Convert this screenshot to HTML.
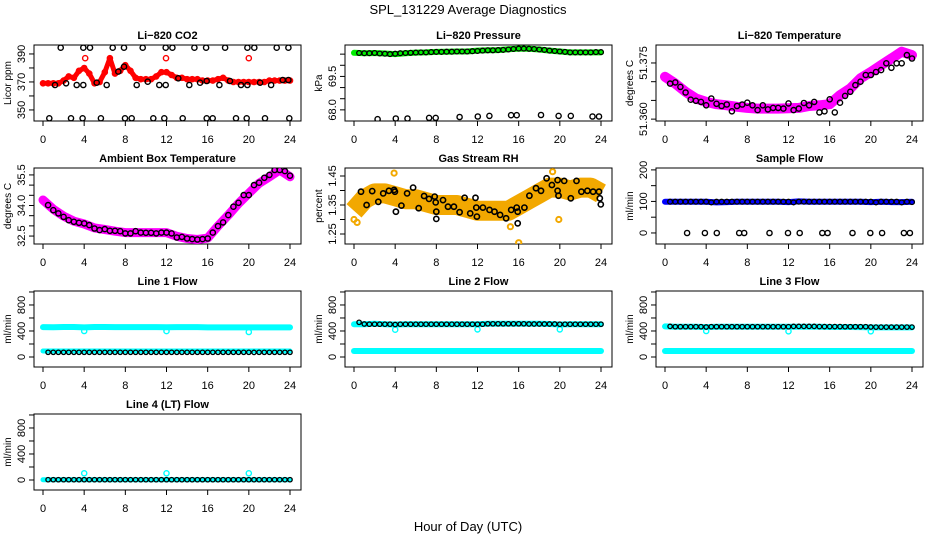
<!DOCTYPE html>
<html><head><meta charset="utf-8">
<style>
html,body{margin:0;padding:0;background:#fff;}
svg{display:block;font-family:"Liberation Sans",sans-serif;}
</style></head>
<body>
<svg id="chart" width="936" height="540" viewBox="0 0 936 540">
<text x="468" y="14" text-anchor="middle" font-size="13">SPL_131229  Average Diagnostics</text>
<text x="468" y="531" text-anchor="middle" font-size="13">Hour of Day (UTC)</text>
</svg>
<script>
const HOURLY = [0,1,2,3,4,5,6,7,8,9,10,11,12,13,14,15,16,17,18,19,20,21,22,23,24];
const HALF = [0.5,1,1.5,2,2.5,3,3.5,4,4.5,5,5.5,6,6.5,7,7.5,8,8.5,9,9.5,10,10.5,11,11.5,12,12.5,13,13.5,14,14.5,15,15.5,16,16.5,17,17.5,18,18.5,19,19.5,20,20.5,21,21.5,22,22.5,23,23.5,24];
const X_TICKS = [0,4,8,12,16,20,24];

// CO2
const co2RedT = [0,0.5,1,1.5,2,2.5,3,3.5,4,4.5,5,5.5,6,6.5,7,7.5,8,8.5,9,9.5,10,10.5,11,11.5,12,12.5,13,13.5,14,14.5,15,15.5,16,16.5,17,17.5,18,18.5,19,19.5,20,20.5,21,21.5,22,22.5,23,23.5,24];
const co2Red = [369,369,369,369,371,374,373,378,380,376,369,370,377,387,376,378,382,378,373,372,372,372,374,377,377,375,373,373,372,372,372,371,371,371,372,373,371,370,370,370,370,370,370,370,371,371,371,371,371];
const co2RedOutT = [4.1,11.95,20];
const co2RedOut = [387,387,387];
const co2BlackT = [1.17,2.24,3.27,3.92,5.22,6.19,7.32,7.87,9.1,10.17,11.3,11.92,13.15,14.22,15.26,15.91,17.14,18.17,19.24,19.86,21.09,22.16,23.29,23.84];
const co2Black = [367.8,369,367.8,367.8,369.5,367.8,377.4,380.9,367.8,370.2,367.8,367.8,372.6,367.8,369.5,370.7,367.8,370.7,367.8,367.8,369.5,367.8,371.4,371.4];
const co2TopT = [1.72,3.92,4.57,6.77,7.87,9.69,11.92,12.57,14.71,15.85,17.69,19.86,20.53,22.71,23.84];
const co2TopV = [394.5,394.5,394.5,394.5,394.5,394.5,394.5,394.5,394.5,394.5,394.5,394.5,394.5,394.5,394.5];
const co2BotT = [0.61,2.72,3.85,5.63,7.97,8.62,10.72,11.79,13.57,15.91,16.49,18.75,19.79,21.57,23.93];
const co2BotV = [344,344,344,344,344,344,344,344,344,344,344,344,344,344,344];

// Pressure
const presGreen = [70.56,70.54,70.55,70.53,70.50,70.54,70.57,70.58,70.60,70.61,70.62,70.62,70.66,70.67,70.68,70.72,70.75,70.74,70.71,70.66,70.62,70.58,70.58,70.58,70.58];
const presBlack = [70.55,70.54,70.54,70.55,70.53,70.52,70.50,70.52,70.54,70.55,70.56,70.57,70.58,70.58,70.59,70.60,70.60,70.61,70.61,70.62,70.62,70.62,70.63,70.64,70.66,70.67,70.67,70.68,70.69,70.71,70.73,70.75,70.75,70.74,70.73,70.71,70.69,70.66,70.64,70.62,70.60,70.58,70.58,70.58,70.58,70.58,70.59,70.59];
const presLowT = [2.29,4.06,5.2,7.3,7.94,10.26,12.03,13.16,15.26,15.81,18.17,19.88,21.07,23.17,23.81];
const presLowV = [67.58,67.61,67.61,67.64,67.64,67.68,67.70,67.73,67.76,67.76,67.77,67.73,67.73,67.70,67.70];

// Li-820 temperature
const ltMag = [51.3713,51.3695,51.3673,51.3655,51.3646,51.3640,51.3637,51.3633,51.3630,51.3628,51.3628,51.3628,51.3629,51.3630,51.3635,51.3637,51.3640,51.3664,51.3682,51.3709,51.3726,51.3744,51.3762,51.3780,51.3771];
const ltBlack = [51.3695,51.3698,51.3686,51.3671,51.3652,51.3649,51.3646,51.3637,51.3655,51.3641,51.3635,51.3639,51.3621,51.3635,51.3639,51.3644,51.3637,51.3624,51.3637,51.3626,51.3630,51.3630,51.3628,51.3642,51.3624,51.3628,51.3643,51.3637,51.3646,51.3618,51.3621,51.3653,51.3618,51.3644,51.3662,51.3673,51.3691,51.3700,51.3718,51.3718,51.3726,51.3731,51.3749,51.3737,51.3749,51.3749,51.3771,51.3762];

// Ambient box temperature
const ambMag = [34.27,33.82,33.48,33.23,33.09,32.90,32.82,32.74,32.67,32.67,32.67,32.67,32.67,32.49,32.38,32.33,32.40,32.99,33.53,34.10,34.60,35.09,35.41,35.74,35.41];
const ambBlack = [34.02,33.77,33.61,33.44,33.28,33.20,33.15,33.12,33.04,32.87,32.79,32.84,32.76,32.76,32.74,32.63,32.63,32.74,32.67,32.66,32.66,32.63,32.67,32.67,32.63,32.43,32.46,32.38,32.35,32.33,32.35,32.38,32.67,32.99,33.17,33.53,33.94,34.13,34.51,34.51,35.00,35.12,35.36,35.50,35.74,35.74,35.69,35.46];

// Gas stream RH
const rhBand = [1.33,1.37,1.39,1.39,1.38,1.37,1.37,1.36,1.35,1.35,1.35,1.34,1.33,1.33,1.33,1.33,1.35,1.37,1.39,1.41,1.41,1.40,1.41,1.41,1.39];
const rhOutT = [16,19.9,15.2,3.9,0,0.3,19.3];
const rhOut = [1.22,1.30,1.275,1.46,1.30,1.29,1.465];
const rhBlackT = [0.68,1.22,1.77,2.36,2.84,3.39,3.90,3.97,4.07,4.61,5.16,5.74,6.29,6.81,7.29,7.84,7.94,8.0,8.0,8.65,9.13,9.71,10.26,10.75,11.29,11.81,11.88,11.94,12.52,13.17,13.65,14.20,14.78,15.27,15.81,15.91,15.91,16.56,17.04,17.68,18.17,18.71,19.23,19.78,19.78,19.87,20.42,21.07,21.62,22.10,22.68,23.23,23.81,23.88,23.98];
const rhBlack = [1.396,1.350,1.398,1.361,1.390,1.399,1.402,1.396,1.327,1.348,1.390,1.410,1.339,1.381,1.371,1.379,1.359,1.327,1.302,1.367,1.344,1.344,1.325,1.375,1.321,1.375,1.341,1.310,1.341,1.333,1.327,1.316,1.304,1.333,1.341,1.327,1.287,1.341,1.382,1.408,1.399,1.442,1.419,1.436,1.399,1.382,1.433,1.373,1.433,1.396,1.399,1.396,1.396,1.373,1.352];

// Sample flow
const sfBlue = [99,99,99,99,99,97,98,99,99,99,99,99,98,100,99,99,99,99,99,99,98,99,98,98,99];
const sfBlack = [99,99,99,99,99,99,99,99,97,99,99,99,99,99,99,99,99,99,99,99,99,99,99,99,97,99,99,99,99,99,99,99,99,99,99,99,99,99,99,99,97,99,99,99,99,97,99,98];
const sfZeroT = [2.15,3.88,5.03,7.21,7.7,10.15,11.95,13.09,15.28,15.8,18.22,19.95,21.09,23.21,23.8];
const sfZeroV = [0,0,0,0,0,0,0,0,0,0,0,0,0,0,0];

// Line flows
const DIP_T = [4,12,20];
const l1High = [460,458,462,462,455,462,462,460,460,460,460,460,458,460,460,460,455,455,455,455,455,455,455,455,455];
const l1Low = [92,92,92,92,92,92,92,92,92,92,92,92,92,92,92,92,92,92,92,92,92,92,92,92,92];
const l1Black = [72,72,72,72,72,72,72,72,72,72,72,72,72,72,72,72,72,72,72,72,72,72,72,72,72,72,72,72,72,72,72,72,72,72,72,72,72,72,72,72,70,72,72,72,72,72,72,72];
const l1Dip = [400,398,385];
const l2High = [505,505,510,505,500,505,505,505,505,505,505,505,505,510,512,512,512,510,510,508,500,505,505,505,505];
const l2Low = [92,92,92,92,92,92,92,92,92,92,92,92,92,92,92,92,92,92,92,92,92,92,92,92,92];
const l2Black = [534,508,505,505,505,505,505,500,505,505,505,505,505,505,505,505,505,505,505,505,505,505,505,505,505,510,510,510,510,510,510,510,510,508,508,508,508,508,508,505,505,505,505,505,505,505,505,505];
const l2Dip = [420,425,425];
const l3High = [470,465,465,465,460,465,465,465,465,465,465,465,465,465,465,465,462,462,462,460,455,455,455,455,455];
const l3Low = [92,92,92,92,92,92,92,92,92,92,92,92,92,92,92,92,92,92,92,92,92,92,92,92,92];
const l3Black = [470,466,466,466,466,466,466,462,466,466,466,466,466,466,466,466,466,466,466,466,466,466,466,466,470,470,470,470,470,468,468,468,468,468,466,466,466,466,466,462,460,460,460,460,460,460,460,460];
const l3Dip = [400,395,395];
const l4Cyan = [5,5,5,5,5,5,5,5,5,5,5,5,5,5,5,5,5,5,5,5,5,5,5,5,5];
const l4Black = [5,5,5,5,5,5,5,5,5,5,5,5,5,5,5,5,5,5,5,5,5,5,5,5,5,5,5,5,5,5,5,5,5,5,5,5,5,5,5,5,5,5,5,5,5,5,5,5];
const l4Dip = [103,103,103];

const NS = 'http://www.w3.org/2000/svg';
const svg = document.getElementById('chart');
const COLX = [34,345,656], ROWY = [45,168,291,414], PW = 267, PH = 76;

function mk(tag, attrs, parent) {
  const e = document.createElementNS(NS, tag);
  for (const k in attrs) e.setAttribute(k, attrs[k]);
  parent.appendChild(e);
  return e;
}

function panel(col, row, key, title, ylab, ylim, yticks, ylabels) {
  const x0 = COLX[col], y0 = ROWY[row];
  const g = mk('g', {}, svg);
  
  
  const sx = t => x0 + 9 + t * (247 / 24);
  const sy = v => y0 + (ylim[1] - v) / (ylim[1] - ylim[0]) * PH;
  const box = mk('rect', {x: x0, y: y0, width: PW, height: PH, fill: 'none', stroke: '#000', 'stroke-width': 1}, g);
  
  
  const tt = mk('text', {x: x0 + PW / 2, y: y0 - 6, 'text-anchor': 'middle', 'font-size': 11, 'font-weight': 'bold'}, g);
  tt.textContent = title;
  
  
  const xa = mk('g', {}, g);
  
  
  mk('line', {x1: sx(0), x2: sx(24), y1: y0 + PH, y2: y0 + PH, stroke: '#000'}, xa);
  X_TICKS.forEach(t => {
    mk('line', {x1: sx(t), x2: sx(t), y1: y0 + PH, y2: y0 + PH + 5, stroke: '#000'}, xa);
    const l = mk('text', {x: sx(t), y: y0 + PH + 22, 'text-anchor': 'middle', 'font-size': 11}, xa);
    l.textContent = t;
    
    
  });
  const ya = mk('g', {}, g);
  
  
  mk('line', {x1: x0, x2: x0, y1: sy(yticks[0]), y2: sy(yticks[yticks.length - 1]), stroke: '#000'}, ya);
  yticks.forEach(v => mk('line', {x1: x0 - 5, x2: x0, y1: sy(v), y2: sy(v), stroke: '#000'}, ya));
  ylabels.forEach(v => {
    const lx = x0 - 9, ly = sy(parseFloat(v));
    const l = mk('text', {x: lx, y: ly, 'text-anchor': 'middle', 'font-size': 11, transform: 'rotate(-90 ' + lx + ' ' + ly + ')'}, ya);
    l.textContent = v;
    
    
  });
  const yx = x0 - 23, yy = y0 + PH / 2;
  const yt = mk('text', {x: yx, y: yy, 'text-anchor': 'middle', 'font-size': 10, transform: 'rotate(-90 ' + yx + ' ' + yy + ')'}, g);
  yt.textContent = ylab;
  
  
  const clip = mk('clipPath', {id: 'clip-' + key}, svg);
  mk('rect', {x: x0, y: y0, width: PW, height: PH}, clip);
  const plot = mk('g', {'clip-path': 'url(#clip-' + key + ')'}, g);
  
  
  return {sx, sy, plot, key};
}

function band(p, ts, vs, color, w, name, cap) {
  const d = ts.map((t, i) => (i ? 'L' : 'M') + p.sx(t).toFixed(1) + ' ' + p.sy(vs[i]).toFixed(1)).join(' ');
  const e = mk('path', {d: d, fill: 'none', stroke: color, 'stroke-width': w, 'stroke-linejoin': 'round', 'stroke-linecap': cap || 'round'}, p.plot);
  
  
}
function pts(p, ts, vs, color, name, r, sw) {
  const g = mk('g', {}, p.plot);
  
  
  ts.forEach((t, i) => {
    const c = mk('circle', {cx: p.sx(t).toFixed(1), cy: p.sy(vs[i]).toFixed(1), r: r || 2.6, fill: 'none', stroke: color, 'stroke-width': sw || 1.4}, g);
    
    
  });
}

let p;
p = panel(0, 0, 'co2', 'Li\u2212820 CO2', 'Licor ppm', [342.1, 396.4], [350,360,370,380,390], ['350','370','390']);
band(p, co2RedT, co2Red, '#ff0000', 5, 'red-series');
pts(p, co2RedT, co2Red, '#ff0000', 'red-points');
pts(p, co2RedOutT, co2RedOut, '#ff0000', 'red-outliers');
pts(p, co2BlackT, co2Black, '#000', 'black-points');
pts(p, co2TopT, co2TopV, '#000', 'black-top-points');
pts(p, co2BotT, co2BotV, '#000', 'black-bottom-points');

p = panel(1, 0, 'pressure', 'Li\u2212820 Pressure', 'kPa', [67.5, 70.91], [68.0,68.5,69.0,69.5,70.0,70.5], ['68.0','69.5']);
band(p, HOURLY, presGreen, '#00ee00', 6, 'green-series');
pts(p, HALF, presBlack, '#000', 'black-points', 2.4, 1.3);
pts(p, presLowT, presLowV, '#000', 'black-low-points');

p = panel(2, 0, 'li-temp', 'Li\u2212820 Temperature', 'degrees C', [51.3595, 51.3798], [51.360,51.365,51.370,51.375], ['51.360','51.375']);
band(p, HOURLY, ltMag, '#ff00ff', 10, 'magenta-series');
pts(p, HALF, ltBlack, '#000', 'black-points');

p = panel(0, 1, 'ambient', 'Ambient Box Temperature', 'degrees C', [32.11, 35.84], [32.5,33.0,33.5,34.0,34.5,35.0,35.5], ['32.5','34.0','35.5']);
band(p, HOURLY, ambMag, '#ff00ff', 9, 'magenta-series');
pts(p, HALF, ambBlack, '#000', 'black-points');

p = panel(1, 1, 'rh', 'Gas Stream RH', 'percent', [1.2155, 1.4776], [1.25,1.30,1.35,1.40,1.45], ['1.25','1.35','1.45']);
band(p, HOURLY, rhBand, '#f2a800', 20, 'orange-series', 'butt');
pts(p, rhOutT, rhOut, '#f2a800', 'orange-outliers', 2.6, 2);
pts(p, rhBlackT, rhBlack, '#000', 'black-points', 2.6, 1.6);

p = panel(2, 1, 'sample-flow', 'Sample Flow', 'ml/min', [-35, 206], [0,50,100,150,200], ['0','100','200']);
band(p, HOURLY, sfBlue, '#0000ff', 6, 'blue-series');
pts(p, HALF, sfBlack, '#000', 'black-points', 2.4, 1.3);
pts(p, sfZeroT, sfZeroV, '#000', 'black-zero-points');

const FL = [-154, 1015], FT = [0,200,400,600,800,1000], FLAB = ['0','400','800'];
p = panel(0, 2, 'line1', 'Line 1 Flow', 'ml/min', FL, FT, FLAB);
band(p, HOURLY, l1High, '#00ffff', 6, 'cyan-high-series');
band(p, HOURLY, l1Low, '#00ffff', 5, 'cyan-low-series');
pts(p, DIP_T, l1Dip, '#00ffff', 'cyan-dips');
pts(p, HALF, l1Black, '#000', 'black-points', 2.2, 1.3);

p = panel(1, 2, 'line2', 'Line 2 Flow', 'ml/min', FL, FT, FLAB);
band(p, HOURLY, l2High, '#00ffff', 6, 'cyan-high-series');
band(p, HOURLY, l2Low, '#00ffff', 6, 'cyan-low-series');
pts(p, DIP_T, l2Dip, '#00ffff', 'cyan-dips');
pts(p, HALF, l2Black, '#000', 'black-points', 2.2, 1.3);

p = panel(2, 2, 'line3', 'Line 3 Flow', 'ml/min', FL, FT, FLAB);
band(p, HOURLY, l3High, '#00ffff', 6, 'cyan-high-series');
band(p, HOURLY, l3Low, '#00ffff', 6, 'cyan-low-series');
pts(p, DIP_T, l3Dip, '#00ffff', 'cyan-dips');
pts(p, HALF, l3Black, '#000', 'black-points', 2.2, 1.3);

p = panel(0, 3, 'line4', 'Line 4 (LT) Flow', 'ml/min', FL, FT, FLAB);
band(p, HOURLY, l4Cyan, '#00ffff', 5, 'cyan-series');
pts(p, DIP_T, l4Dip, '#00ffff', 'cyan-dips');
pts(p, HALF, l4Black, '#000', 'black-points', 2.2, 1.3);
</script>
</body></html>
